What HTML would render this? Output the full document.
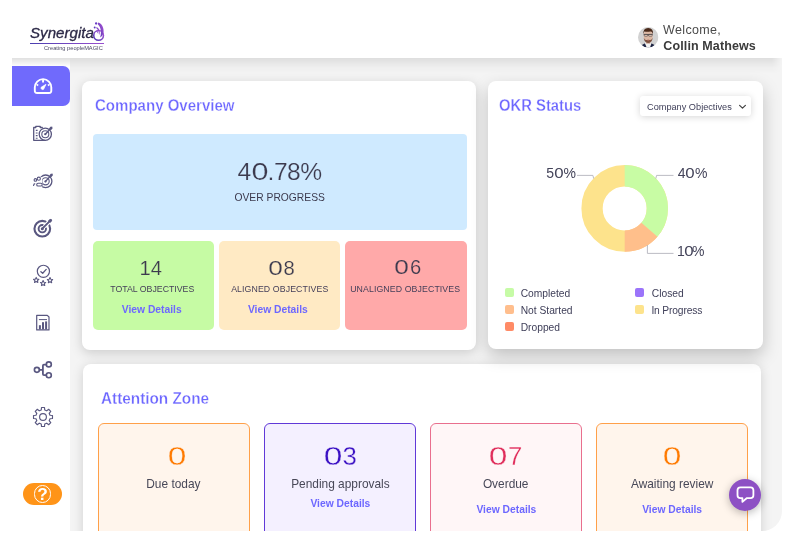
<!DOCTYPE html>
<html><head><meta charset="utf-8"><title>Dashboard</title>
<style>
html,body{margin:0;padding:0;}
body{width:797px;height:533px;overflow:hidden;background:#fff;position:relative;font-family:"Liberation Sans",sans-serif;}
.abs{position:absolute;}
.card{position:absolute;background:#fff;border-radius:8px;box-shadow:0 1px 10px rgba(0,0,0,0.10);}
.tile{position:absolute;border-radius:5px;}
.az{position:absolute;border-radius:6px;border:1px solid;box-sizing:border-box;}
svg{position:absolute;overflow:visible;}
.z{display:inline-block;transform:scaleX(1.3);margin:0 0.085em;}
.z2{display:inline-block;transform:scaleX(1.2);margin:0 0.055em;}
</style></head><body>
<div id="root" style="position:absolute;left:0;top:0;width:797px;height:533px;will-change:transform;">
<div id="t_logo" style="position:absolute;top:26.31px;font-size:14.4px;line-height:14.4px;color:#2c2947;white-space:nowrap;font-style:italic;left:29.60px;-webkit-text-stroke:0.3px #2c2947;transform:scaleX(1.05);transform-origin:0 50%;"><span>Synergita</span></div>
<div class="abs" style="left:30px;top:43px;width:74px;height:1.2px;background:linear-gradient(90deg,#4a3fb0,#9a4fd0);"></div>
<div id="t_tag" style="position:absolute;top:45.91px;font-size:5.9px;line-height:5.9px;color:#4a4862;white-space:nowrap;left:44.00px;transform:scaleX(0.965);transform-origin:0 50%;"><span>Creating peopleMAGIC</span></div>
<svg style="left:91px;top:20px" width="16" height="22" viewBox="91 20 16 22">
<defs><linearGradient id="sw" x1="0" y1="1" x2="1" y2="0"><stop offset="0" stop-color="#4a35b0"/><stop offset="1" stop-color="#b055d8"/></linearGradient></defs>
<circle cx="98.6" cy="35.4" r="4.850" fill="none" stroke="url(#sw)" stroke-width="1.550"/>
<path d="M98.3 22.6 C101.8 23.6 104 28 103.6 32 C103.3 34.6 102 36.3 100.2 37.4 C101.4 33.5 101.6 27.5 97.6 24 Z" fill="url(#sw)"/>
<path d="M96.7 26.9 C99.6 28.4 100.4 31.6 99.3 35.2 C99.1 32.2 98.4 29.6 96.2 28Z" fill="url(#sw)"/>
<path d="M96.5 30.7 C98 31.3 98.600 32.500 98.2 34 C97.8 32.8 97.200 31.900 96.2 31.3Z" fill="url(#sw)"/>
<circle cx="96.1" cy="23.5" r="1.15" fill="#6a3cc4"/>
<circle cx="94.7" cy="27.500" r="0.95" fill="#5a38bc"/>
</svg>
<svg style="left:637.6px;top:26.500px" width="20.4" height="20.4" viewBox="0 0 40 40">
<defs><clipPath id="av"><circle cx="20" cy="20" r="20"/></clipPath></defs>
<g clip-path="url(#av)">
<rect width="40" height="40" fill="#d2d2d2"/>
<path d="M5 40 L8.500 35 L15 31.500 L25 31.500 L31.500 35 L35 40Z" fill="#1c2342"/>
<path d="M13.500 32 L17 40 L23.500 40 L26.500 32 L23 29.500 L17 29.500Z" fill="#f2f2f2"/>
<rect x="16" y="25" width="8" height="7.500" fill="#c49a84"/>
<ellipse cx="20" cy="17.500" rx="9" ry="12" fill="#dcb8a4"/>
<path d="M11.300 21 Q12 31 20 31.300 Q28 31 28.700 21 Q26.500 26 23.500 25.300 Q20 24.300 16.500 25.300 Q13.500 26 11.300 21Z" fill="#7d5240"/>
<path d="M10.800 15 Q9 2 20 2 Q31 2 29.200 15 Q28.500 8.500 24 9 Q18 10.200 12.500 8.800 Q11 11 10.800 15Z" fill="#4a2a1a"/>
<path d="M11 14.600 H29 M19 15.500 H21" stroke="#2e2e33" stroke-width="1.200" fill="none"/>
<rect x="12.300" y="14.600" width="6.700" height="3.600" rx="1.200" fill="rgba(255,255,255,0.25)" stroke="#2e2e33" stroke-width="0.900"/>
<rect x="21" y="14.600" width="6.700" height="3.600" rx="1.200" fill="rgba(255,255,255,0.25)" stroke="#2e2e33" stroke-width="0.900"/>
<ellipse cx="20" cy="25.600" rx="2.300" ry="0.800" fill="#e4807a"/>
</g></svg>
<div id="t_wel" style="position:absolute;top:24.42px;font-size:12.5px;line-height:12.5px;color:#4a4a4a;white-space:nowrap;letter-spacing:0.334px;left:663.10px;"><span>Welcome,</span></div>
<div id="t_name" style="position:absolute;top:40.42px;font-size:12.5px;line-height:12.5px;color:#3b3b3b;white-space:nowrap;font-weight:bold;letter-spacing:0.118px;left:663.30px;"><span>Collin Mathews</span></div>
<div class="abs" id="app" style="left:12px;top:58px;width:770px;height:473px;overflow:hidden;border-bottom-right-radius:20px;background:#f4f4f4;">
<div class="abs" style="left:-12px;top:-58px;width:797px;height:533px;">
<div class="abs" style="left:12px;top:58px;width:58px;height:473px;background:#fff;"></div>
<div class="card" style="left:82.4px;top:80.7px;width:394.1px;height:268.9px;box-shadow:0 3px 12px rgba(0,0,0,0.17);"></div>
<div class="card" style="left:82.8px;top:364.2px;width:678.1px;height:200px;box-shadow:0 2px 12px rgba(0,0,0,0.15);"></div>
<div class="card" style="left:488.2px;top:80.7px;width:275.2px;height:268.5px;box-shadow:0 7px 17px rgba(0,0,0,0.21);"></div>
<div class="abs" style="left:70px;top:58px;width:712px;height:16px;background:linear-gradient(180deg,rgba(0,0,0,0.085),rgba(0,0,0,0.02) 60%,rgba(0,0,0,0));-webkit-mask-image:linear-gradient(90deg,#000 0,#000 98.600%,transparent 100%);mask-image:linear-gradient(90deg,#000 0,#000 98.600%,transparent 100%);"></div>
<div class="abs" style="left:12px;top:58px;width:58px;height:9px;background:linear-gradient(180deg,rgba(0,0,0,0.12),rgba(0,0,0,0));"></div>
<div class="abs" style="left:12px;top:66px;width:58px;height:40.3px;background:#706afc;border-radius:0 7px 7px 0;"></div>
<svg style="left:0;top:0" width="797" height="533" viewBox="0 0 797 533">
<g fill="none" stroke="#fff" stroke-width="1.9" stroke-linecap="round" stroke-linejoin="round">
<path d="M37.200 93 Q34.600 93 34.800 90.300 L34.800 87.400 A8.250 8.250 0 0 1 51.300 87.400 L51.300 90.300 Q51.500 93 48.900 93 Z"/>
<path d="M43.050 79.900 V82.400" stroke-width="1.900" stroke-linecap="butt"/>
<path d="M36.500 84.400 L38.200 85.500" stroke-width="1.600" stroke-linecap="butt"/>
<path d="M49.600 84.400 L47.900 85.500" stroke-width="1.600" stroke-linecap="butt"/>
</g>
<path d="M46 84.300 L43.600 89.300 A1.700 1.700 0 0 1 41.100 87.300 Z" fill="#fff" stroke="#fff" stroke-width="0.700" stroke-linejoin="round"/>
</svg>
<svg style="left:0;top:0" width="797" height="533" viewBox="0 0 797 533">
<g fill="none" stroke="#595780" stroke-width="1.3" stroke-linecap="round" stroke-linejoin="round">
<!-- icon1 clipboard + target -->
<path d="M45 140.300 H33.700 V127.500 H35.800 V126.300 H40.200 V127.500 H42.300"/>
<path d="M35.800 130.400 H37.600 M35.800 133 H37.600 M35.800 135.600 H37.600 M35.800 138.200 H37.600" stroke-width="1.1" stroke-linecap="butt"/>
<circle cx="45.300" cy="134.200" r="6.100"/>
<circle cx="45.300" cy="134.200" r="3.500" stroke-width="1.1"/>
<path d="M45.300 134.200 L51.800 127.300" stroke-width="1.4"/>
<path d="M49.900 129.400 L51.700 127.500" stroke-width="2.600" stroke-linecap="butt"/>
<!-- icon2 people + target -->
<circle cx="45.600" cy="181.300" r="6.300"/>
<circle cx="45.600" cy="181.300" r="3.600" stroke-width="1.100"/>
<path d="M45.300 181.600 L52.100 174.200" stroke-width="1.4"/>
<path d="M50.200 176.300 L52 174.400" stroke-width="2.600" stroke-linecap="butt"/>
<!-- icon3 target -->
<circle cx="42.300" cy="228.700" r="7.850" stroke-width="2.100"/>
<circle cx="42.300" cy="228.700" r="3.700" stroke-width="1.900"/>
<path d="M44.300 226.700 L51.500 219.400" stroke="#fff" stroke-width="4.200" stroke-linecap="butt"/>
<path d="M42.300 228.700 L51 219.900" stroke-width="1.900"/>
<path d="M49 222 L51.200 219.700" stroke-width="3" stroke-linecap="butt"/>
<!-- icon4 badge -->
<circle cx="43.400" cy="271.350" r="6.100" stroke-width="1.200"/>
<path d="M40.900 271.700 L42.700 273.300 L46.200 269.400" stroke-width="1.300"/>
<!-- icon5 report -->
<path d="M36.700 315.300 H47.300 L49 317 V329.900 H36.700 Z" stroke-width="1.200"/>
<path d="M39.300 319.600 H46.600" stroke-width="1"/>
<!-- icon6 share -->
<circle cx="36.900" cy="369.800" r="2.500" stroke-width="1.650"/>
<circle cx="48.800" cy="364.400" r="2.500" stroke-width="1.650"/>
<circle cx="48.800" cy="375.200" r="2.500" stroke-width="1.650"/>
<path d="M39.500 369.800 H42.900 M46.300 364.600 H44 Q42.900 364.600 42.900 365.700 V374 Q42.900 375.100 44 375.100 H46.300" stroke-width="1.800"/>
</g>
<g fill="#595780" stroke="none">
<circle cx="45.300" cy="134.200" r="1.100"/>
<circle cx="45.500" cy="181.400" r="1.100"/>
<circle cx="42.300" cy="228.700" r="1.500"/>
<rect x="38.900" y="325.200" width="2" height="4.200"/>
<rect x="42" y="322.200" width="2" height="7.200"/>
<rect x="45.100" y="321.400" width="2" height="8"/>
</g>
<rect x="33" y="177.200" width="9.300" height="10" fill="#fff" stroke="none"/>
<g fill="#fff" stroke="#595780" stroke-width="1.100">
<circle cx="35.400" cy="179.900" r="1.300"/>
<circle cx="38.800" cy="178.700" r="1.600"/>
<rect x="36.700" y="183.300" width="5.500" height="2.700" rx="1.350"/>
<path d="M33.500 185.900 Q33.500 183.700 35.200 183.600" fill="none"/>
</g>
</svg>
<svg style="left:0;top:0" width="797" height="533" viewBox="0 0 797 533">
<g fill="none" stroke="#595780" stroke-width="1.100" stroke-linejoin="round">
<path d="M36.20 277.40 L36.99 279.11 L38.86 279.33 L37.48 280.62 L37.85 282.47 L36.20 281.55 L34.55 282.47 L34.92 280.62 L33.54 279.33 L35.41 279.11Z"/>
<path d="M43.10 280.50 L43.89 282.21 L45.76 282.43 L44.38 283.72 L44.75 285.57 L43.10 284.65 L41.45 285.57 L41.82 283.72 L40.44 282.43 L42.31 282.21Z"/>
<path d="M50.00 277.60 L50.79 279.31 L52.66 279.53 L51.28 280.82 L51.65 282.67 L50.00 281.75 L48.35 282.67 L48.72 280.82 L47.34 279.53 L49.21 279.31Z"/>
<path d="M41.26 410.01 L41.50 407.52 L44.50 407.52 L44.74 410.01 L46.71 410.83 L48.64 409.23 L50.77 411.36 L49.17 413.29 L49.99 415.26 L52.48 415.50 L52.48 418.50 L49.99 418.74 L49.17 420.71 L50.77 422.64 L48.64 424.77 L46.71 423.17 L44.74 423.99 L44.50 426.48 L41.50 426.48 L41.26 423.99 L39.29 423.17 L37.36 424.77 L35.23 422.64 L36.83 420.71 L36.01 418.74 L33.52 418.50 L33.52 415.50 L36.01 415.26 L36.83 413.29 L35.23 411.36 L37.36 409.23 L39.29 410.83Z" stroke-width="1.150"/>
<circle cx="43" cy="417" r="3.400" stroke-width="1.150"/>
</g></svg>
<div class="abs" style="left:23px;top:483.200px;width:39.200px;height:22px;border-radius:11px;background:#ff9418;"></div>
<div class="abs" style="left:33.600px;top:485.200px;width:17.900px;height:17.900px;box-sizing:border-box;border:1.4px solid #fff;border-radius:50%;"></div>
<div style="position:absolute;top:486.36px;font-size:17.3px;line-height:17.3px;color:#fff;white-space:nowrap;font-weight:bold;left:-107.45px;width:300px;text-align:center;"><span>?</span></div>
<div id="t_co" style="position:absolute;top:97.69px;font-size:15.6px;line-height:15.6px;color:#6d67ff;white-space:nowrap;font-weight:bold;left:94.60px;transform:scaleX(0.964);transform-origin:0 50%;-webkit-text-stroke:0.3px #fff;"><span>Company Overview</span></div>
<div class="abs" style="left:93px;top:134px;width:373.600px;height:95.500px;border-radius:4px;background:#cfeaff;"></div>
<div id="t_big" style="position:absolute;top:159.98px;font-size:24.6px;line-height:24.6px;color:#3c3a4e;white-space:nowrap;letter-spacing:-0.450px;left:129.70px;width:300px;text-align:center;-webkit-text-stroke:0.2px #cfeaff;"><span>4<span class="z" style="transform:scaleX(1.24);margin:0 0.07em;">0</span>.78%</span></div>
<div id="t_op" style="position:absolute;top:193.08px;font-size:10.3px;line-height:10.3px;color:#3c3a4e;white-space:nowrap;left:129.70px;width:300px;text-align:center;"><span>OVER PROGRESS</span></div>
<div class="tile" style="left:93px;top:241.200px;width:121.1px;height:88.600px;background:#c6fba4;"></div>
<div id="t_tn0" style="position:absolute;top:258.20px;font-size:20.2px;line-height:20.2px;color:#3c3a4e;white-space:nowrap;left:0.80px;width:300px;text-align:center;-webkit-text-stroke:0.2px #c6fba4;"><span>14</span></div>
<div id="t_tl0" style="position:absolute;top:284.79px;font-size:8.75px;line-height:8.75px;color:#46405a;white-space:nowrap;left:2.30px;width:300px;text-align:center;"><span>TOTAL OBJECTIVES</span></div>
<div id="t_tv0" style="position:absolute;top:305.28px;font-size:10.3px;line-height:10.3px;color:#6d67ff;white-space:nowrap;font-weight:bold;left:1.75px;width:300px;text-align:center;"><span>View Details</span></div>
<div class="tile" style="left:219.2px;top:241.200px;width:121.1px;height:88.600px;background:#ffeac4;"></div>
<div id="t_tn1" style="position:absolute;top:258.20px;font-size:20.2px;line-height:20.2px;color:#3c3a4e;white-space:nowrap;letter-spacing:0.500px;left:131.75px;width:300px;text-align:center;-webkit-text-stroke:0.2px #ffeac4;"><span><span class="z">0</span>8</span></div>
<div id="t_tl1" style="position:absolute;top:284.79px;font-size:8.75px;line-height:8.75px;color:#46405a;white-space:nowrap;letter-spacing:0.106px;left:129.75px;width:300px;text-align:center;"><span>ALIGNED OBJECTIVES</span></div>
<div id="t_tv1" style="position:absolute;top:305.28px;font-size:10.3px;line-height:10.3px;color:#6d67ff;white-space:nowrap;font-weight:bold;left:127.85px;width:300px;text-align:center;"><span>View Details</span></div>
<div class="tile" style="left:345px;top:241.200px;width:121.6px;height:88.600px;background:#ffa9a9;"></div>
<div id="t_tn2" style="position:absolute;top:257.20px;font-size:20.2px;line-height:20.2px;color:#3c3a4e;white-space:nowrap;letter-spacing:0.700px;left:258.35px;width:300px;text-align:center;-webkit-text-stroke:0.2px #ffa9a9;"><span><span class="z">0</span>6</span></div>
<div id="t_tl2" style="position:absolute;top:284.79px;font-size:8.75px;line-height:8.75px;color:#46405a;white-space:nowrap;letter-spacing:0.104px;left:255.20px;width:300px;text-align:center;"><span>UNALIGNED OBJECTIVES</span></div>
<div id="t_okr" style="position:absolute;top:97.69px;font-size:15.6px;line-height:15.6px;color:#6d67ff;white-space:nowrap;font-weight:bold;left:499.40px;transform:scaleX(0.95);transform-origin:0 50%;-webkit-text-stroke:0.3px #fff;"><span>OKR Status</span></div>
<div class="abs" style="left:640px;top:96.300px;width:111.300px;height:19.500px;border-radius:3px;background:#fff;box-shadow:0 1px 7px rgba(0,0,0,0.17);"></div>
<div id="t_dd" style="position:absolute;top:102.71px;font-size:9.2px;line-height:9.2px;color:#40405a;white-space:nowrap;left:647.00px;"><span>Company Objectives</span></div>
<svg style="left:0;top:0" width="797" height="533" viewBox="0 0 797 533"><path d="M739.600 105.300 L742.500 108.200 L745.400 105.300" fill="none" stroke="#444" stroke-width="1.200" stroke-linecap="round" stroke-linejoin="round"/></svg>
<svg style="left:0;top:0" width="797" height="533" viewBox="0 0 797 533"><circle cx="624.7" cy="208.4" r="32.65" fill="none" stroke="#fde38c" stroke-width="21.299999999999997"/><path d="M624.70 165.10 A43.3 43.3 0 0 1 657.23 236.98 L641.23 222.92 A22.0 22.0 0 0 0 624.70 186.40Z" fill="#c8fca4"/><path d="M657.48 236.69 A43.3 43.3 0 0 1 624.70 251.70 L624.70 230.40 A22.0 22.0 0 0 0 641.35 222.78Z" fill="#ffbf8b"/><g fill="none" stroke="#b4b4bc" stroke-width="0.900"><path d="M577 175.400 H592.900 L593.700 178.600"/><path d="M673.500 175.400 H656.600 L655.800 178.600"/><path d="M647.400 245 V253.400 H673.500"/></g></svg>
<div id="t_50" style="position:absolute;top:166.25px;font-size:14px;line-height:14px;color:#44445a;white-space:nowrap;left:546.30px;"><span>5<span class="z2">0</span>%</span></div>
<div id="t_40" style="position:absolute;top:166.25px;font-size:14px;line-height:14px;color:#44445a;white-space:nowrap;left:677.80px;"><span>4<span class="z2">0</span>%</span></div>
<div id="t_10" style="position:absolute;top:243.55px;font-size:14px;line-height:14px;color:#44445a;white-space:nowrap;letter-spacing:-1.100px;left:677.10px;"><span>1<span class="z2">0</span>%</span></div>
<div class="abs" style="left:505px;top:288px;width:9.300px;height:9.300px;border-radius:2px;background:#c6fba6;"></div>
<div id="t_lg0" style="position:absolute;top:289.02px;font-size:10.25px;line-height:10.25px;color:#40405a;white-space:nowrap;left:520.70px;"><span>Completed</span></div>
<div class="abs" style="left:505px;top:304.5px;width:9.300px;height:9.300px;border-radius:2px;background:#ffbe8d;"></div>
<div id="t_lg1" style="position:absolute;top:305.62px;font-size:10.25px;line-height:10.25px;color:#40405a;white-space:nowrap;left:520.70px;"><span>Not Started</span></div>
<div class="abs" style="left:505px;top:322.2px;width:9.300px;height:9.300px;border-radius:2px;background:#ff8b66;"></div>
<div id="t_lg2" style="position:absolute;top:322.52px;font-size:10.25px;line-height:10.25px;color:#40405a;white-space:nowrap;left:520.70px;"><span>Dropped</span></div>
<div class="abs" style="left:635.2px;top:288px;width:9.300px;height:9.300px;border-radius:2px;background:#9b74fa;"></div>
<div id="t_lg3" style="position:absolute;top:289.02px;font-size:10.25px;line-height:10.25px;color:#40405a;white-space:nowrap;left:651.80px;"><span>Closed</span></div>
<div class="abs" style="left:635.2px;top:304.5px;width:9.300px;height:9.300px;border-radius:2px;background:#fde38c;"></div>
<div id="t_lg4" style="position:absolute;top:305.62px;font-size:10.25px;line-height:10.25px;color:#40405a;white-space:nowrap;letter-spacing:-0.144px;left:651.40px;"><span>In Progress</span></div>
<div id="t_az" style="position:absolute;top:391.19px;font-size:15.6px;line-height:15.6px;color:#6d67ff;white-space:nowrap;font-weight:bold;left:100.60px;transform:scaleX(0.982);transform-origin:0 50%;-webkit-text-stroke:0.3px #fff;"><span>Attention Zone</span></div>
<div class="az" style="left:98.1px;top:422.800px;width:152px;height:140px;border-color:#ffa049;background:#fff5ec;"></div>
<div id="t_an0" style="position:absolute;top:444.06px;font-size:25.8px;line-height:25.8px;color:#ff7a00;white-space:nowrap;left:26.80px;width:300px;text-align:center;-webkit-text-stroke:0.3px #fff5ec;"><span><span class="z">0</span></span></div>
<div id="t_al0" style="position:absolute;top:479.03px;font-size:11.9px;line-height:11.9px;color:#484858;white-space:nowrap;left:23.40px;width:300px;text-align:center;"><span>Due today</span></div>
<div class="az" style="left:264.4px;top:422.800px;width:152px;height:140px;border-color:#6139d8;background:#f4f0ff;"></div>
<div id="t_an1" style="position:absolute;top:444.06px;font-size:25.8px;line-height:25.8px;color:#3a10c4;white-space:nowrap;letter-spacing:0.500px;left:190.40px;width:300px;text-align:center;-webkit-text-stroke:0.3px #f4f0ff;"><span><span class="z">0</span>3</span></div>
<div id="t_al1" style="position:absolute;top:479.03px;font-size:11.9px;line-height:11.9px;color:#484858;white-space:nowrap;left:190.40px;width:300px;text-align:center;"><span>Pending approvals</span></div>
<div id="t_av1" style="position:absolute;top:498.68px;font-size:10.3px;line-height:10.3px;color:#6d67ff;white-space:nowrap;font-weight:bold;left:190.40px;width:300px;text-align:center;"><span>View Details</span></div>
<div class="az" style="left:430.4px;top:422.800px;width:152px;height:140px;border-color:#e96f8e;background:#fff6f7;"></div>
<div id="t_an2" style="position:absolute;top:444.06px;font-size:25.8px;line-height:25.8px;color:#e02d5b;white-space:nowrap;left:355.70px;width:300px;text-align:center;-webkit-text-stroke:0.3px #fff6f7;"><span><span class="z">0</span>7</span></div>
<div id="t_al2" style="position:absolute;top:479.03px;font-size:11.9px;line-height:11.9px;color:#484858;white-space:nowrap;left:355.70px;width:300px;text-align:center;"><span>Overdue</span></div>
<div id="t_av2" style="position:absolute;top:505.38px;font-size:10.3px;line-height:10.3px;color:#6d67ff;white-space:nowrap;font-weight:bold;left:356.40px;width:300px;text-align:center;"><span>View Details</span></div>
<div class="az" style="left:596px;top:422.800px;width:152.3px;height:140px;border-color:#ffa049;background:#fff5ec;"></div>
<div id="t_an3" style="position:absolute;top:444.06px;font-size:25.8px;line-height:25.8px;color:#ff7a00;white-space:nowrap;left:522.15px;width:300px;text-align:center;-webkit-text-stroke:0.3px #fff5ec;"><span><span class="z">0</span></span></div>
<div id="t_al3" style="position:absolute;top:479.03px;font-size:11.9px;line-height:11.9px;color:#484858;white-space:nowrap;left:522.15px;width:300px;text-align:center;"><span>Awaiting review</span></div>
<div id="t_av3" style="position:absolute;top:505.38px;font-size:10.3px;line-height:10.3px;color:#6d67ff;white-space:nowrap;font-weight:bold;left:522.15px;width:300px;text-align:center;"><span>View Details</span></div>
<div class="abs" style="left:729px;top:478.500px;width:32.300px;height:32.300px;border-radius:50%;background:#8d50c4;box-shadow:0 2px 8px rgba(0,0,0,0.28);"></div>
<svg style="left:0;top:0" width="797" height="533" viewBox="0 0 797 533">
<path d="M740.400 487.400 H750.500 Q753.400 487.400 753.400 490.300 V495.300 Q753.400 498.200 750.500 498.200 H746.600 L742.400 501.900 V498.200 H740.400 Q737.500 498.200 737.500 495.300 V490.300 Q737.500 487.400 740.400 487.400Z" fill="none" stroke="#fff" stroke-width="1.800" stroke-linejoin="round"/>
</svg>
</div></div>
</div>
</body></html>
